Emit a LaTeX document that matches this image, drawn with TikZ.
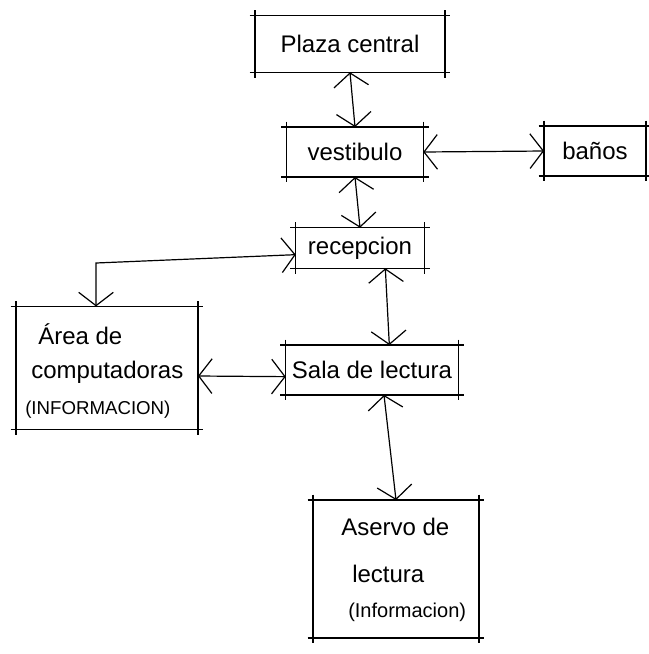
\documentclass[tikz,border=0pt]{standalone}
\usepackage{fontspec}
\setmainfont{Liberation Sans}
\usetikzlibrary{arrows.meta}
\tikzset{
  room/.style={draw=none, inner sep=0pt, font=\fontsize{18}{22}\selectfont},
  edge/.style={line width=1pt, black},
  conn/.style={line width=0.9pt, black, >={Straight Barb[length=10pt,width=26pt]}, <->},
}
% four sides of a box, each running a little past the corners
\newcommand\sketchbox[1]{%
  \draw[edge, shorten <=-4pt, shorten >=-4pt] (#1.north west) -- (#1.north east);
  \draw[edge, shorten <=-4pt, shorten >=-4pt] (#1.south west) -- (#1.south east);
  \draw[edge, shorten <=-4pt, shorten >=-4pt] (#1.north west) -- (#1.south west);
  \draw[edge, shorten <=-4pt, shorten >=-4pt] (#1.north east) -- (#1.south east);
}
\begin{document}
\begin{tikzpicture}[x=0.75pt, y=-0.75pt]
  \useasboundingbox (0,0) rectangle (649,654);

  \node[room, minimum width=142pt, minimum height=42pt] (plaza) at (350,44) {Plaza central};
  \node[room, minimum width=102pt, minimum height=37pt] (vest) at (355,152) {vestibulo};
  \node[room, minimum width=76pt, minimum height=37pt] (banos) at (595,151) {baños};
  \node[room, minimum width=96pt, minimum height=30pt] (recep) at (360,248) {recepcion};
  \node[room, minimum width=136pt, minimum height=92pt] (area) at (107,368) {};
  \node[room, minimum width=129pt, minimum height=37pt] (sala) at (372,370) {Sala de lectura};
  \node[room, minimum width=124pt, minimum height=103pt] (aservo) at (396,569) {};

  % multi-line labels, set flush left inside their boxes
  \node[room, anchor=west] (areatxt) at (38,334) {Área de};
  \node[room, anchor=west] (areatxt2) at (31,372) {computadoras};
  \node[room, anchor=west, font=\fontsize{14}{17}\selectfont] (areatxt3) at (25,410) {(INFORMACION)};
  \node[room, anchor=west] (asetxt) at (341,527) {Aservo de};
  \node[room, anchor=west] (asetxt2) at (352,574) {lectura};
  \node[room, anchor=west, font=\fontsize{15}{18}\selectfont] (asetxt3) at (348,612) {(Informacion)};

  \sketchbox{plaza}
  \sketchbox{vest}
  \sketchbox{banos}
  \sketchbox{recep}
  \sketchbox{area}
  \sketchbox{sala}
  \sketchbox{aservo}

  \coordinate (elbow) at (96,263);
  \draw[conn] (plaza.south) -- (vest.north);
  \draw[conn] (vest.east) -- (banos.west);
  \draw[conn] (vest.south) -- (recep.north);
  \draw[conn] (area.north -| elbow) -- (elbow) -- ([yshift=-5pt]recep.west);
  \draw[conn] ([xshift=19pt]recep.south) -- ([xshift=13pt]sala.north);
  \draw[conn] ([yshift=-6pt]area.east) -- ([yshift=-5pt]sala.west);
  \draw[conn] ([xshift=9pt]sala.south) -- (aservo.north);
\end{tikzpicture}
\end{document}
